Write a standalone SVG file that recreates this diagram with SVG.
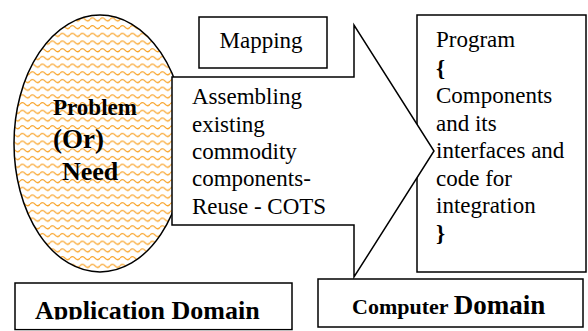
<svg xmlns="http://www.w3.org/2000/svg" width="588" height="331" viewBox="0 0 588 331">
  <rect width="588" height="331" fill="#ffffff"/>
  <defs>
    <pattern id="waves" width="10" height="7.7" patternUnits="userSpaceOnUse">
      <rect width="10" height="7.7" fill="#ffffff"/>
      <path d="M0 4 Q 2.5 1 5 4 T 10 4" fill="none" stroke="#f9a52c" stroke-width="1.3"/>
    </pattern>
  </defs>

  <g id="problem">
    <ellipse cx="100" cy="143.5" rx="86" ry="128.5" fill="url(#waves)" stroke="#000000" stroke-width="1.5"/>
    <text x="53" y="115" style="font-family: 'Liberation Serif'; font-size: 23px; font-weight: bold">Problem</text>
    <text x="53" y="148" style="font-family: 'Liberation Serif'; font-size: 27px; font-weight: bold">(Or)</text>
    <text x="62" y="180" style="font-family: 'Liberation Serif'; font-size: 26px; font-weight: bold">Need</text>
  </g>

  <g id="program" fill="#ffffff" stroke="#000000" stroke-width="1.5">
    <rect x="417" y="15" width="169" height="257"/>
  </g>

  <g id="connectors" fill="#ffffff" stroke="#000000" stroke-width="1.5">
    <polygon id="mapping-arrow" points="172,77 354,77 354,25 434,151 354,277 354,225 172,225"/>
  </g>

  <g id="arrow-text">
    <text x="192" y="104" style="font-family: 'Liberation Serif'; font-size: 23px">Assembling</text>
    <text x="192" y="131.5" style="font-family: 'Liberation Serif'; font-size: 23px">existing</text>
    <text x="192" y="159" style="font-family: 'Liberation Serif'; font-size: 23px">commodity</text>
    <text x="192" y="186" style="font-family: 'Liberation Serif'; font-size: 23px">components-</text>
    <text x="192" y="213.5" style="font-family: 'Liberation Serif'; font-size: 23px">Reuse - COTS</text>
  </g>

  <g id="program-text">
    <text x="436" y="47" style="font-family: 'Liberation Serif'; font-size: 23px">Program</text>
    <text x="436" y="76" style="font-family: 'Liberation Serif'; font-size: 23px; font-weight: bold">{</text>
    <text x="436" y="103" style="font-family: 'Liberation Serif'; font-size: 23px">Components</text>
    <text x="436" y="130.5" style="font-family: 'Liberation Serif'; font-size: 23px">and its</text>
    <text x="436" y="158" style="font-family: 'Liberation Serif'; font-size: 23px">interfaces and</text>
    <text x="436" y="185.5" style="font-family: 'Liberation Serif'; font-size: 23px">code for</text>
    <text x="436" y="213" style="font-family: 'Liberation Serif'; font-size: 23px">integration</text>
    <text x="436" y="240.5" style="font-family: 'Liberation Serif'; font-size: 23px; font-weight: bold">}</text>
  </g>

  <g id="mapping">
    <rect x="199" y="17" width="128" height="51" fill="#ffffff" stroke="#000000" stroke-width="1.5"/>
    <text x="261" y="48" text-anchor="middle" style="font-family: 'Liberation Serif'; font-size: 23px">Mapping</text>
  </g>

  <g id="application-domain">
    <rect x="15" y="283" width="277" height="46.5" fill="#ffffff" stroke="#000000" stroke-width="1.5"/>
    <text x="35" y="319" style="font-family: 'Liberation Serif'; font-size: 26px; font-weight: bold">Application Domain</text>
    <rect x="16" y="319.5" width="275" height="9.2" fill="#ffffff"/>
  </g>

  <g id="computer-domain">
    <rect x="318" y="279" width="265" height="48" fill="#ffffff" stroke="#000000" stroke-width="1.5"/>
    <text x="352" y="314" style="font-family: 'Liberation Serif'; font-weight: bold"><tspan style="font-size: 22px">Computer </tspan><tspan style="font-size: 27px">Domain</tspan></text>
  </g>
</svg>
